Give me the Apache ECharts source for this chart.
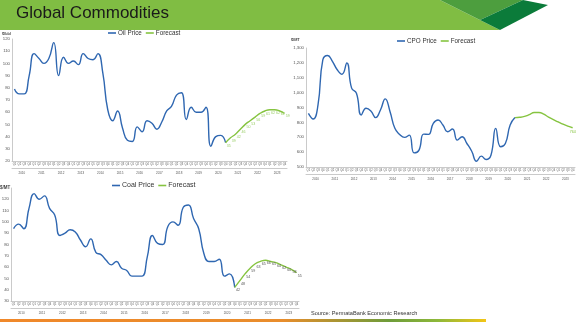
<!DOCTYPE html>
<html><head><meta charset="utf-8">
<script src="https://cdn.jsdelivr.net/npm/echarts@6/dist/echarts.min.js"></script>
<style>html,body{margin:0;padding:0;background:#fff}#c{width:578px;height:322px}</style>
</head><body><div id="c"></div>
<script>
const years = ['2010','2011','2012','2013','2014','2015','2016','2017','2018','2019','2020','2021','2022','2023'];
const quarterNames = ['Q1','Q2','Q3','Q4'];
// actual values 2010Q1..2020Q4 (44 quarters)
const oilPrice = [79,75,75,90,108,104,100,104,117,90,105,100,102,99,108,104,103,108,92,62,53,61,47,37,36,48,44,53,51,46,52,61,65,74,76,54,64,60,60,64,32,40,41,35];
// forecast 2020Q4..2023Q4 (13 quarters)
const oilForecast = [35,39,42,46,50,53,56,59,61,62,62,61,59];
const cpoPrice = [861,823,917,1220,1250,1210,1154,1124,1199,1030,996,850,895,877,832,883,958,872,760,719,699,714,595,612,721,719,793,816,782,737,755,681,703,658,606,539,573,550,579,760,636,658,782,832];
const cpoForecast = [832,834,840,852,866,866,855,835,818,803,788,775,764];
const coalPrice = [94,98,94,112,125,120,123,112,106,88,90,93,91,84,78,85,73,71,66,62,65,59,57,52,52,52,69,88,81,80,96,100,97,113,115,103,94,72,65,65,67,52,54,42];
const coalForecast = [42,48,54,59,63,65,66,65,64,62,60,58,55];

const quarters = [];
years.forEach(y => quarterNames.forEach(q => quarters.push(y + q)));
const fcStart = oilPrice.length - 1;
function actualSeries(a){ return quarters.map((q,i)=> i < a.length ? a[i] : null); }
function forecastSeries(f){ return quarters.map((q,i)=> (i>=fcStart && i-fcStart < f.length) ? f[i-fcStart] : null); }

const BLUE = '#2f67b1', GREEN = '#86c440', AX = '#a6a6a6', FONT = 'Liberation Sans';
function qAxis(g){
  return {type:'category', gridIndex:g, data:quarters, boundaryGap:true,
    axisLine:{lineStyle:{color:AX,width:0.6}},
    axisTick:{interval:3, length:16, lineStyle:{color:AX,width:0.6}},
    axisLabel:{interval:0, formatter:v=>v.slice(4), fontSize:2.7, color:'#555', margin:2, fontFamily:FONT},
    splitLine:{show:false}};
}
function yrAxis(g){
  return {type:'category', gridIndex:g, data:years, boundaryGap:true, position:'bottom', offset:7,
    axisLine:{lineStyle:{color:AX,width:0.6}}, axisTick:{show:false},
    axisLabel:{interval:0, fontSize:3, color:'#555', margin:4, fontFamily:FONT},
    splitLine:{show:false}};
}
function vAxis(g,min,max,step,fmt){
  return {type:'value', gridIndex:g, min:min, max:max, interval:step,
    axisLine:{show:true, lineStyle:{color:AX,width:0.6}}, axisTick:{show:false},
    splitLine:{show:false},
    axisLabel:{fontSize:4.3, color:'#555', margin:2, fontFamily:FONT, formatter:fmt}};
}
function legend(names, left, top, fs){
  return {data:names, left:left, top:top, icon:'rect', itemWidth:8, itemHeight:1.6, itemGap:4,
    textStyle:{fontSize:fs, color:'#333', fontFamily:FONT, padding:[0,0,0,-3]}, selectedMode:false, padding:0};
}
function lineS(name, data, xi, yi, color, z){
  return {name:name, type:'line', data:data, xAxisIndex:xi, yAxisIndex:yi, smooth:0.5, showSymbol:false,
    connectNulls:false, lineStyle:{color:color, width:1.4}, itemStyle:{color:color}, z:z||2, animation:false};
}
function withLabels(s, color, fmt, offset){
  s.showSymbol = true; s.symbol = 'circle'; s.symbolSize = 0.4;
  s.label = {show:true, position:'right', distance:1, offset:offset||[0,3], fontSize:3.6, color:color, fontFamily:FONT};
  if (fmt) s.label.formatter = fmt;
  return s;
}

const chart = echarts.init(document.getElementById('c'), null, {renderer:'canvas'});
const oilF = withLabels(lineS('Forecast', forecastSeries(oilForecast), 0, 0, GREEN, 3), '#9ccf6a');
const cpoF = withLabels(lineS('Forecast', forecastSeries(cpoForecast), 2, 1, GREEN, 3), '#86c440',
  p => p.dataIndex === quarters.length - 1 ? p.value : '', [-4,4]);
const coalF = withLabels(lineS('Forecast', forecastSeries(coalForecast), 4, 2, GREEN, 3), '#555');

chart.setOption({
  animation:false,
  backgroundColor:'#fff',
  grid:[
    {left:12, top:39, width:275, height:122, containLabel:false, outerBoundsMode:'none'},
    {left:306, top:48, width:269, height:119, containLabel:false, outerBoundsMode:'none'},
    {left:11, top:188, width:288, height:113, containLabel:false, outerBoundsMode:'none'}
  ],
  legend:[
    legend(['Oil Price','Forecast'], 108, 30, 6.3),
    legend(['CPO Price','Forecast'], 397, 38, 6.3),
    legend(['Coal Price','Forecast'], 112, 182, 7)
  ],
  xAxis:[qAxis(0), yrAxis(0), qAxis(1), yrAxis(1), qAxis(2), yrAxis(2)],
  yAxis:[
    vAxis(0,20,120,10),
    vAxis(1,500,1300,100, v=>v.toLocaleString('en-US')),
    vAxis(2,30,130,10, v=> v===130 ? '' : v)
  ],
  series:[
    lineS('Oil Price', actualSeries(oilPrice), 0, 0, BLUE),
    oilF,
    lineS('CPO Price', actualSeries(cpoPrice), 2, 1, BLUE),
    cpoF,
    lineS('Coal Price', actualSeries(coalPrice), 4, 2, BLUE),
    coalF
  ],
  graphic:[
    {type:'polygon', shape:{points:[[0,0],[440,0],[500,30],[0,30]]}, style:{fill:'#80bd43'}, silent:true},
    {type:'polygon', shape:{points:[[440,0],[523,0],[480,20]]}, style:{fill:'#4d9e3e'}, silent:true},
    {type:'polygon', shape:{points:[[523,0],[548,5],[500,30],[480,20]]}, style:{fill:'#0b7b3a'}, silent:true},
    {type:'text', left:16, top:5, style:{text:'Global Commodities', fontSize:17, fontFamily:FONT, fill:'#1a1a1a'}},
    {type:'text', x:2, y:32, style:{text:'$/bbl', fontSize:3.8, fontFamily:FONT, fill:'#444', fontWeight:'bold'}},
    {type:'text', x:291, y:38, style:{text:'$/MT', fontSize:3.8, fontFamily:FONT, fill:'#444', fontWeight:'bold'}},
    {type:'text', x:0, y:185, style:{text:'$/MT', fontSize:4.5, fontFamily:FONT, fill:'#444', fontWeight:'bold'}},
    {type:'text', x:311, y:310, style:{text:'Source: PermataBank Economic Research', fontSize:5.6, fontFamily:FONT, fill:'#333'}},
    {type:'rect', shape:{x:0, y:319, width:486, height:3}, silent:true,
      style:{fill:new echarts.graphic.LinearGradient(0,0,1,0,[
        {offset:0,color:'#f0882a'},{offset:0.58,color:'#e98d2c'},{offset:0.8,color:'#6e9c3a'},{offset:0.9,color:'#8db83a'},{offset:1,color:'#f3c516'}])}}
  ]
});
</script></body></html>
